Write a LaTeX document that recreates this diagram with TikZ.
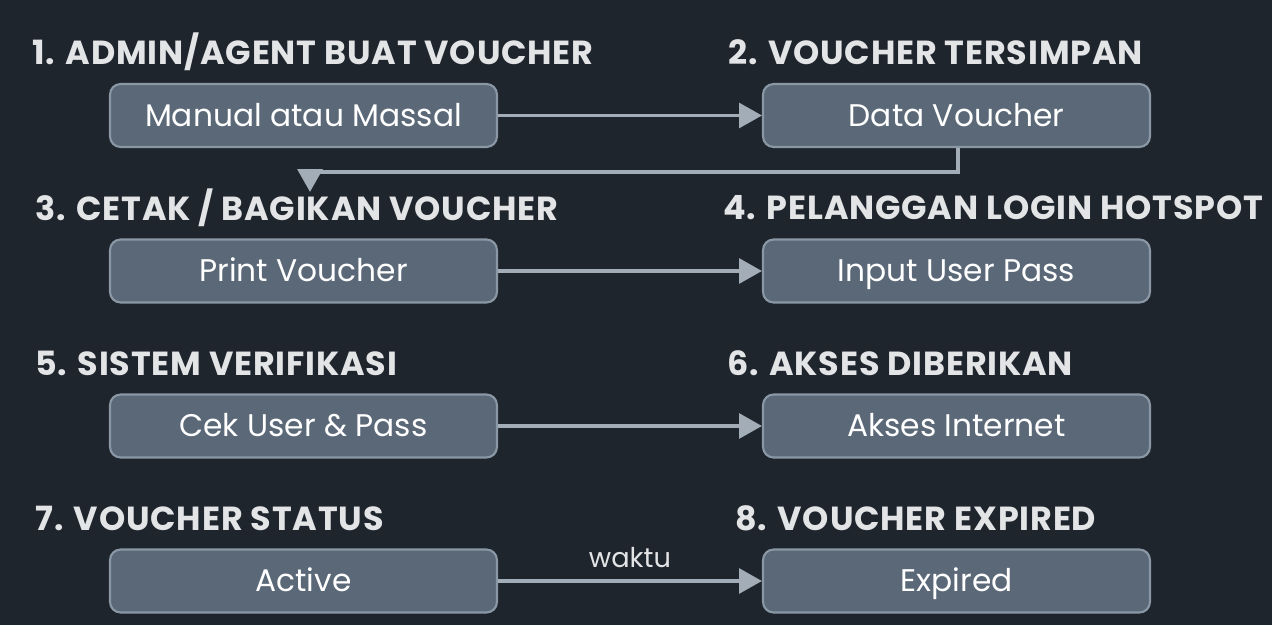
\documentclass[tikz,border=0pt]{standalone}
\usepackage{fontspec}
\setmainfont{Poppins}
\newfontfamily\titfont[LetterSpace=2.5]{Poppins}
\usetikzlibrary{arrows.meta}
\definecolor{bgc}{HTML}{1F252D}
\definecolor{boxfill}{HTML}{5A6878}
\definecolor{boxline}{HTML}{8A97A5}
\definecolor{arrc}{HTML}{A3ADB8}
\definecolor{titc}{HTML}{E2E4E6}
\begin{document}
\begin{tikzpicture}[x=0.02cm,y=-0.02cm,
  stepbox/.style={draw=boxline,line width=1.2pt,fill=boxfill,rounded corners=6pt,minimum width=7.74cm,minimum height=1.26cm,inner sep=0pt,text=white,text height=12.5pt,text depth=0pt,font=\fontsize{17.8}{21}\selectfont},
  titl/.style={anchor=west,text=titc,inner sep=0pt,font=\titfont\fontsize{19}{22}\selectfont\bfseries},
  conn/.style={draw=arrc,line width=2.2pt,-{Triangle[length=13pt,width=14pt]}}]
\fill[bgc] (0,0) rectangle (1272,625);
\useasboundingbox (0,0) rectangle (1272,625);
% titles
\node[titl] (t1) at (32,52) {1. ADMIN/AGENT BUAT VOUCHER};
\node[titl] (t2) at (728,52) {2. VOUCHER TERSIMPAN};
\node[titl] (t3) at (35,208) {3. CETAK / BAGIKAN VOUCHER};
\node[titl] (t4) at (723,208) {4. PELANGGAN LOGIN HOTSPOT};
\node[titl] (t5) at (35,363) {5. SISTEM VERIFIKASI};
\node[titl] (t6) at (727,363) {6. AKSES DIBERIKAN};
\node[titl] (t7) at (35,518) {7. VOUCHER STATUS};
\node[titl] (t8) at (735,518) {8. VOUCHER EXPIRED};
% boxes
\node[stepbox] (b1) at (303.5,115.5) {Manual atau Massal};
\node[stepbox] (b2) at (956.5,115.5) {Data Voucher};
\node[stepbox] (b3) at (303.5,271) {Print Voucher};
\node[stepbox] (b4) at (956.5,271) {Input User Pass};
\node[stepbox] (b5) at (303.5,426) {Cek User \& Pass};
\node[stepbox] (b6) at (956.5,426) {Akses Internet};
\node[stepbox] (b7) at (303.5,581) {Active};
\node[stepbox] (b8) at (956.5,581) {Expired};
\coordinate (e1) at (958,172);
\coordinate (e2) at (310,172);
\coordinate (e3) at (310,192);
% connectors
\draw[conn] (b1) -- (b2);
\draw[conn] (b3) -- (b4);
\draw[conn] (b5) -- (b6);
\draw[conn] (b7) -- node[above=3pt,text=titc,font=\fontsize{15.5}{18}\selectfont] (wl) {waktu} (b8);
\draw[conn] (b2.south -| e1) -- (e1) -- (e2) -- (e3);
\end{tikzpicture}
\end{document}
